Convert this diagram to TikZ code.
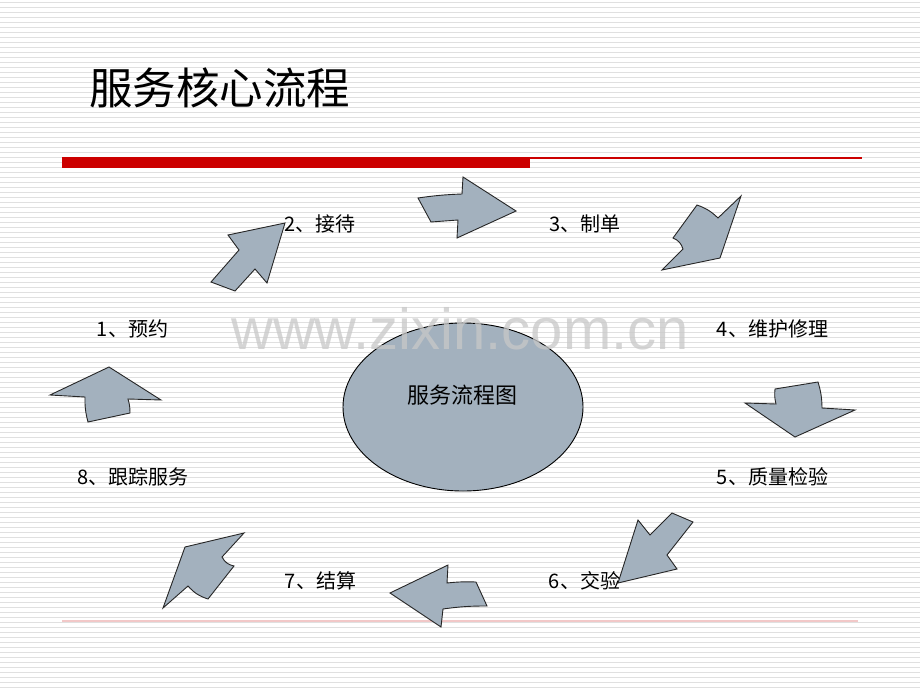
\documentclass[tikz,border=0pt]{standalone}
\usepackage{fontspec}
\usetikzlibrary{shapes.geometric}
\newfontfamily\cjk{Noto Sans CJK SC}
\newfontfamily\wmfont{Liberation Sans}
\definecolor{stripe}{RGB}{224,224,224}
\definecolor{barred}{RGB}{204,0,0}
\definecolor{pinkline}{RGB}{242,200,200}
\definecolor{shapefill}{RGB}{163,177,190}
\definecolor{wmgray}{RGB}{200,200,200}
\begin{document}
\begin{tikzpicture}[x=1pt,y=-1pt,
  arrowshape/.style={fill=shapefill,draw=black!85,line width=0.9pt,line join=miter},
  steplabel/.style={font=\cjk\fontsize{20}{20}\selectfont,inner sep=0pt,anchor=center},
]
\useasboundingbox (0,0) rectangle (920,690);
\fill[white] (0,0) rectangle (920,690);
\foreach \k in {0,...,137} {
  \draw[stripe,line width=1.5pt] (0,{2.5+5*\k}) -- (920,{2.5+5*\k});
}
% title
\node[font=\cjk\fontsize{43.5}{43.5}\selectfont,anchor=west,inner sep=0pt] (title) at (89,88) {服务核心流程};
% red bar
\fill[barred] (62,157) rectangle (530,168);
\draw[barred,line width=1.6pt] (530,157.8) -- (862,157.8);
% bottom pink line
\draw[pinkline,line width=2pt] (62,621) -- (858,621);
% centre ellipse
\node[ellipse,draw=black,line width=0.9pt,fill=shapefill,minimum width=240pt,minimum height=168pt,inner sep=0pt] (core) at (463,407) {};
\node[font=\cjk\fontsize{22}{22}\selectfont,inner sep=0pt] (coretext) at (462,395) {服务流程图};
% watermark
\node[font=\wmfont\fontsize{58}{58}\selectfont,text=wmgray,opacity=0.75,inner sep=0pt] (wm) at (460,329) {www.zixin.com.cn};
% labels
\node[steplabel] (l1) at (132.5,329) {1、预约};
\node[steplabel] (l3) at (585,224) {3、制单};
\node[steplabel] (l4) at (772.5,329) {4、维护修理};
\node[steplabel] (l5) at (772.5,477) {5、质量检验};
\node[steplabel] (l6) at (584.5,581) {6、交验};
\node[steplabel] (l7) at (320.5,581) {7、结算};
\node[steplabel] (l8) at (133,477) {8、跟踪服务};
% arrows
% 1 -> 2
\draw[arrowshape] (285,223) -- (228,235) -- (239,250) -- (211,282) -- (235,291) -- (255,269) -- (267,283) -- cycle;
% 2 -> 3
\draw[arrowshape] (418,198) to[bend left=3] (462,194) -- (463,177) -- (516,211) -- (457,238) -- (458,220) -- (431,222) -- cycle;
% 3 -> 4
\draw[arrowshape] (741,196) -- (718,218) to[bend right=12] (697,205) -- (673,238) to[bend left=25] (683,249) -- (662,270) -- (720,258) -- cycle;
% 4 -> 5
\draw[arrowshape] (745,403) -- (776,404) to[bend left=10] (775,389) -- (818,382) to[bend left=8] (822,408) -- (855,410) -- (795,437) -- cycle;
% 5 -> 6
\draw[arrowshape] (693,522) -- (672,513) -- (650,535) -- (638,520) -- (618,583) -- (677,569) -- (667,555) -- cycle;
% 6 -> 7
\draw[arrowshape] (390,593) -- (448,565) -- (447,583) to[bend left=4] (476,582) -- (487,606) to[bend right=4] (443,609) -- (441,627) -- cycle;
% 7 -> 8
\draw[arrowshape] (244,533) -- (185,547) -- (163,608) -- (188,586) to[bend right=15] (208,599) -- (234,566) to[bend left=25] (222,557) -- cycle;
% 8 -> 1
\draw[arrowshape] (50,395) -- (109,367) -- (161,400) -- (128,399) to[bend left=8] (130,413) -- (88,422) to[bend left=8] (85,397) -- cycle;
\node[steplabel] (l2) at (320,224) {2、接待};
\end{tikzpicture}
\end{document}
